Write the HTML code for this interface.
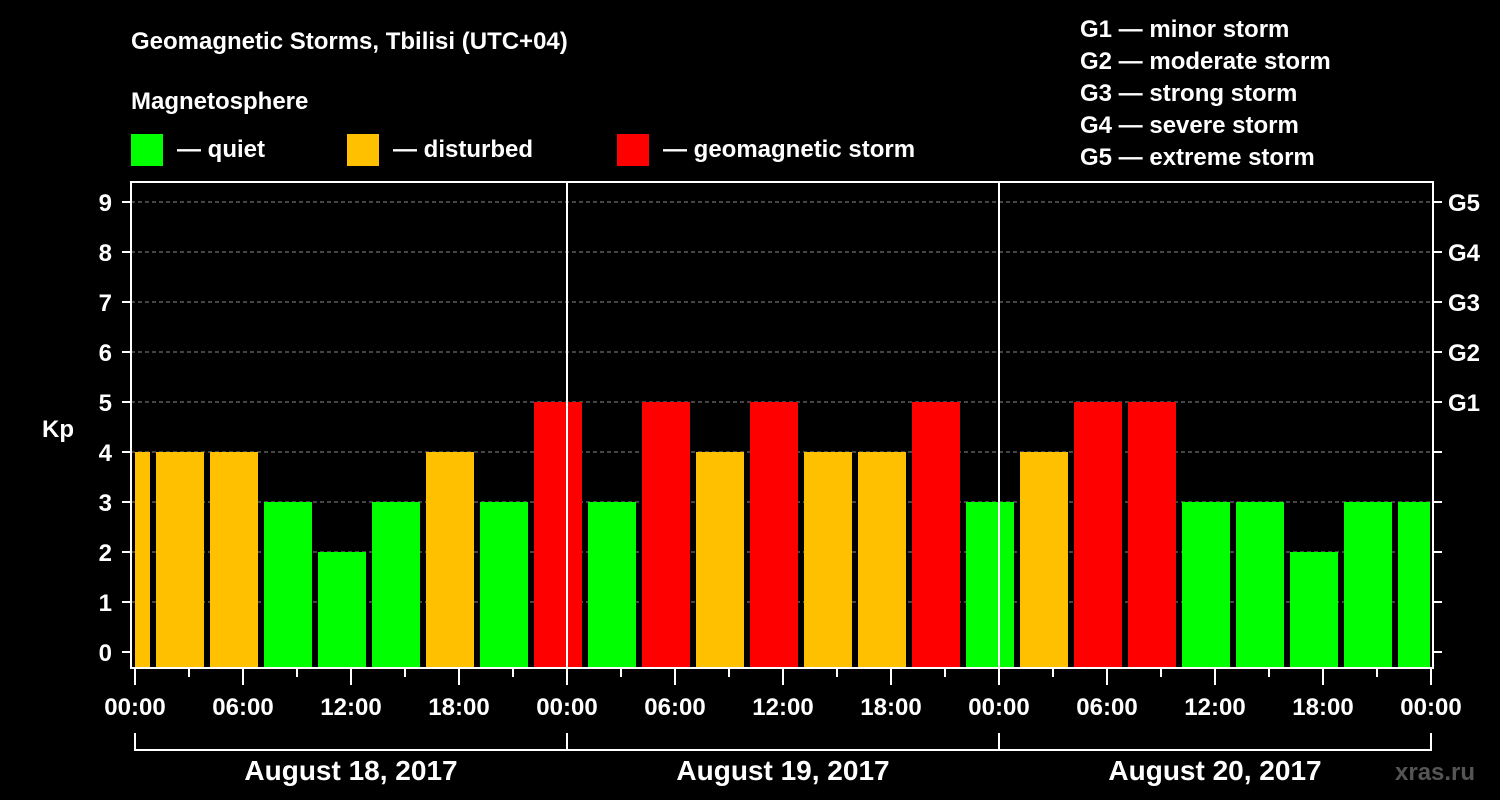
<!DOCTYPE html>
<html><head><meta charset="utf-8"><style>
html,body{margin:0;padding:0;background:#000;}
svg{display:block;font-family:"Liberation Sans",Arial,sans-serif;font-weight:bold;}
</style></head><body>
<svg id="c" width="1500" height="800" viewBox="0 0 1500 800">
<rect width="1500" height="800" fill="#000"/>
<text x="131" y="49" font-size="24" fill="#fff">Geomagnetic Storms, Tbilisi (UTC+04)</text>
<text x="131" y="109" font-size="24" fill="#fff">Magnetosphere</text>
<g><rect x="131" y="134" width="32" height="32" fill="#00ff00"/><text x="177" y="157" font-size="24" fill="#fff">— quiet</text></g>
<g><rect x="347" y="134" width="32" height="32" fill="#ffc000"/><text x="393" y="157" font-size="24" fill="#fff">— disturbed</text></g>
<g><rect x="617" y="134" width="32" height="32" fill="#ff0000"/><text x="663" y="157" font-size="24" fill="#fff">— geomagnetic storm</text></g>
<g font-size="24" fill="#fff">
<text x="1080" y="37">G1 — minor storm</text>
<text x="1080" y="69">G2 — moderate storm</text>
<text x="1080" y="101">G3 — strong storm</text>
<text x="1080" y="133">G4 — severe storm</text>
<text x="1080" y="165">G5 — extreme storm</text>
</g>
<text x="42" y="437" font-size="24" fill="#fff">Kp</text>
<text x="1395" y="780" font-size="24" fill="#555">xras.ru</text>
<g id="grid"></g><g id="bars"></g><g id="axes"></g>
</svg>
<script>
const kpValues=[4,4,4,3,2,3,4,3,5,3,5,4,5,4,4,5,3,4,5,5,3,3,2,3,3];
const slotStartHours=[-2,1,4,7,10,13,16,19,22,25,28,31,34,37,40,43,46,49,52,55,58,61,64,67,70];
const yTicks=[0,1,2,3,4,5,6,7,8,9];
const gLabels=["G1","G2","G3","G4","G5"];
const gLevels=[5,6,7,8,9];
const xTickLabels=["00:00","06:00","12:00","18:00","00:00","06:00","12:00","18:00","00:00","06:00","12:00","18:00","00:00"];
const dayLabels=["August 18, 2017","August 19, 2017","August 20, 2017"];
const NS="http://www.w3.org/2000/svg";
const X0=135,PX_H=18,L=131,R=1433,T=182,B=668;
const xs=h=>X0+h*PX_H;
const ys=v=>652-v*50;
function mk(tag,attrs,parent,txt){const e=document.createElementNS(NS,tag);for(const k in attrs)e.setAttribute(k,attrs[k]);if(txt!==undefined)e.textContent=txt;parent.appendChild(e);return e;}
const grid=document.getElementById('grid'),bars=document.getElementById('bars'),axes=document.getElementById('axes');
yTicks.forEach(v=>{if(v>0){const g=mk('line',{x1:L,x2:R,y1:ys(v),y2:ys(v),stroke:'#888','stroke-dasharray':'4,3','stroke-width':1},grid);

}
const t=mk('line',{x1:122,x2:L,y1:ys(v),y2:ys(v),stroke:'#fff','stroke-width':2},axes);


const lb=mk('text',{x:112,y:ys(v)+9,'font-size':24,fill:'#fff','text-anchor':'end'},axes,String(v));


const rt=mk('line',{x1:R,x2:1442,y1:ys(v),y2:ys(v),stroke:'#fff','stroke-width':2},axes);

});
gLabels.forEach((g,i)=>{const t=mk('text',{x:1448,y:ys(gLevels[i])+9,'font-size':24,fill:'#fff'},axes,g);

});
const cp=mk('clipPath',{id:'pc'},bars);mk('rect',{x:X0,y:T,width:1430-X0,height:B-T},cp);
kpValues.forEach((v,i)=>{const x1=xs(slotStartHours[i])+3,x2=xs(slotStartHours[i]+3)-3;
const col=v>=5?'#ff0000':(v>=4?'#ffc000':'#00ff00');
const r=mk('rect',{x:x1,y:ys(v),width:x2-x1,height:B-ys(v),fill:col,'clip-path':'url(#pc)'},bars);

});
[24,48].forEach(h=>{const l=mk('line',{x1:xs(h),x2:xs(h),y1:T,y2:B,stroke:'#fff','stroke-width':2},axes);

});
const fr=mk('path',{d:`M${L} ${T}H${R}V${B}H${L}Z`,fill:'none',stroke:'#fff','stroke-width':2},axes);


for(let h=0;h<=72;h+=3){const major=h%6===0;const t=mk('line',{x1:xs(h),x2:xs(h),y1:B,y2:major?685:677,stroke:'#fff','stroke-width':2},axes);

}
xTickLabels.forEach((s,i)=>{const t=mk('text',{x:xs(i*6),y:715,'font-size':24,fill:'#fff','text-anchor':'middle'},axes,s);

});
const br=mk('path',{d:`M${xs(0)} 733V750H${xs(72)}V733M${xs(24)} 733V750M${xs(48)} 733V750`,fill:'none',stroke:'#fff','stroke-width':2},axes);


dayLabels.forEach((s,i)=>{const t=mk('text',{x:xs(i*24+12),y:780,'font-size':28,fill:'#fff','text-anchor':'middle'},axes,s);

});
</script>
</body></html>
